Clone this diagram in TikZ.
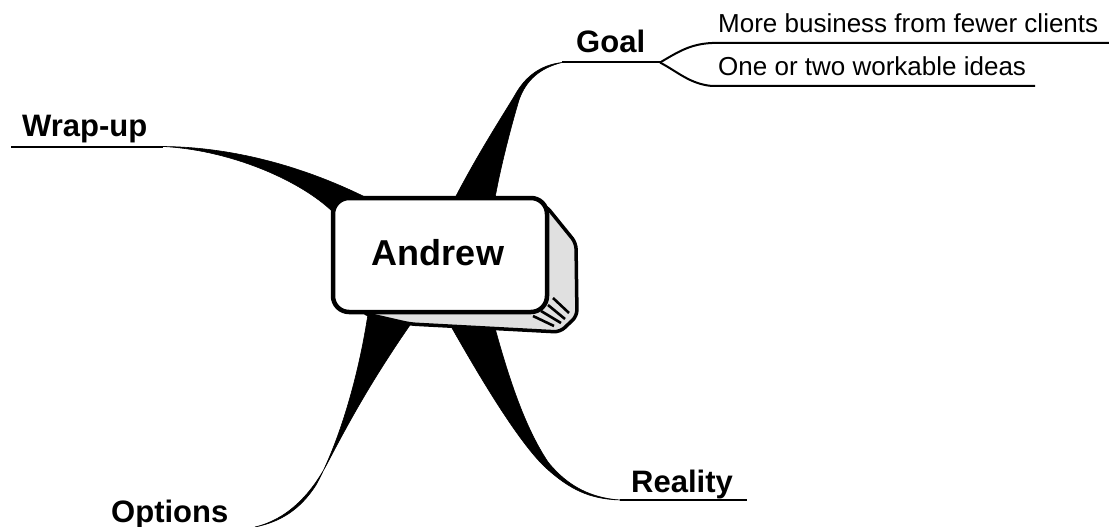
\documentclass[tikz,border=0pt]{standalone}
\usepackage{fontspec}
\setmainfont{Liberation Sans}
\begin{document}
\begin{tikzpicture}[x=1pt,y=-1pt,
  lbl/.style={font=\fontsize{31}{37}\selectfont\bfseries, inner sep=0pt, anchor=base west},
  sub/.style={font=\fontsize{26}{31}\selectfont, inner sep=0pt, anchor=base west},
  stem/.style={line width=2pt},
  branch/.style={fill=black, draw=black, line width=0.6pt, line join=round},
  depth/.style={draw=black, line width=3.5pt, fill=black!12, line join=round},
  front/.style={draw=black, line width=4.5pt, fill=white, rounded corners=16pt,
    minimum width=214pt, minimum height=114pt, inner sep=0pt},
  bevel/.style={line width=2.6pt}]
\useasboundingbox (0,0) rectangle (1109,527);

% ends of the tapered branches
\coordinate (wrapend) at (163,146.5);
\coordinate (goalend) at (562,62.5);
\coordinate (fork) at (660,62.5);
\coordinate (optend) at (255,527);
\coordinate (realend) at (620,500);

% Wrap-up branch
\fill[branch] (365,197) .. controls (300,165) and (230,147) .. (wrapend)
  .. controls (230,150) and (300,180) .. (333,212) -- cycle;
\draw[stem] (11,146.5) -- (wrapend);

% Goal branch
\fill[branch] (455,198) .. controls (480,150) and (505,112) .. (515,95)
  .. controls (525,77) and (540,65) .. (goalend)
  .. controls (540,68) and (526,80) .. (519,100)
  .. controls (510,130) and (500,170) .. (495,198) -- cycle;
\draw[stem] (goalend) -- (fork);
\draw[stem] (fork) .. controls (678,52) and (690,44) .. (712,43) -- (1109,43);
\draw[stem] (fork) .. controls (678,72) and (690,84) .. (712,86) -- (1035,86);

% Options branch
\fill[branch] (368,314) .. controls (358,380) and (338,445) .. (316,485)
  .. controls (300,510) and (280,522) .. (optend)
  .. controls (285,520) and (310,497) .. (328,462)
  .. controls (350,420) and (372,380) .. (410,325) -- cycle;

% Reality branch
\fill[branch] (452,328) .. controls (490,395) and (522,445) .. (545,467)
  .. controls (570,490) and (590,499) .. (realend)
  .. controls (592,498) and (568,487) .. (548,462)
  .. controls (528,432) and (512,390) .. (495,328) -- cycle;
\draw[stem] (realend) -- (747,500);

% central box: shaded depth, then the front face
\draw[depth, rounded corners=6pt] (520,199) -- (546,206) -- (576,243) -- (577,316)
  -- (560,332) -- (410,324) -- (362,313) -- cycle;
\node[front] (andrew) at (440,255) {};
\draw[bevel] (553,298) -- (569,313);
\draw[bevel] (548,305) -- (565,319);
\draw[bevel] (541,311) -- (561,323);
\draw[bevel] (533,316) -- (554,326);
\node[font=\fontsize{36}{43}\selectfont\bfseries, inner sep=0pt, anchor=base]
  (andrewtext) at (438,265) {Andrew};

% labels
\node[lbl] (wrap) at (22,136) {Wrap-up};
\node[lbl] (goal) at (576,53) {Goal};
\node[lbl] (options) at (111,522) {Options};
\node[lbl] (reality) at (631,492) {Reality};
\node[sub] (idea1) at (718,33) {More business from fewer clients};
\node[sub] (idea2) at (718,76) {One or two workable ideas};
\end{tikzpicture}
\end{document}
